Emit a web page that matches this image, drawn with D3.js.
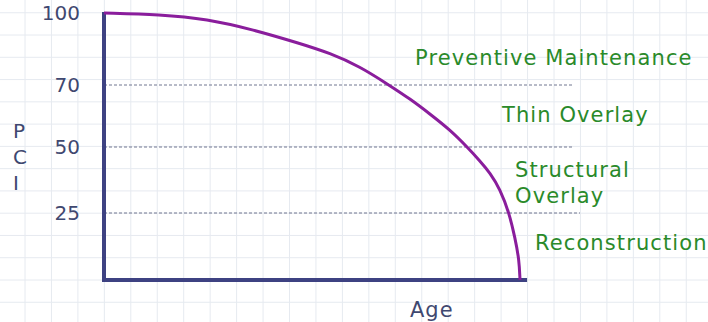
<!DOCTYPE html>
<html>
<head>
<meta charset="utf-8">
<script src="https://cdn.jsdelivr.net/npm/d3@7"></script>
<style>
  html, body { margin: 0; padding: 0; background: #fff; }
  #canvas { width: 708px; height: 322px; }
  text { font-family: "DejaVu Sans", Verdana, sans-serif; }
</style>
</head>
<body>
<div id="canvas" class="canvas"></div>
<script>
// data
var pciTicks = [100, 70, 50, 25];
var thresholds = [70, 50, 25];
var ages = [0, 1.35, 2.48, 3.58, 4.71, 5.43, 6.15, 6.83, 7.36, 7.84, 8.32, 8.73, 9.04, 9.28, 9.52, 9.74, 9.88, 9.98, 10];
var pci  = [100, 99.4, 97.5, 93.1, 87.3, 83.3, 77.7, 70.2, 65.5, 60.6, 55.5, 50, 44.7, 40.2, 34.1, 25, 15.7, 7.5, 0];
var ageMax = 10.17;
var bandLabels = [["Preventive Maintenance"], ["Thin Overlay"], ["Structural", "Overlay"], ["Reconstruction"]];

var outerWidth = 708, outerHeight = 322;

var svg = d3.select('.canvas')
  .append('svg')
  .attr('width', outerWidth)
  .attr('height', outerHeight);

svg.append('rect').attr('width', outerWidth).attr('height', outerHeight).attr('fill', '#fff');

// background grid paper
var gridX = d3.range(25, outerWidth, 26.45);
var gridY = d3.range(280 + 22.27 * 2, 0, -22.27);
svg.append('g').selectAll('line').data(gridX).enter().append('line')
  .attr('x1', function(d){ return d; }).attr('x2', function(d){ return d; })
  .attr('y1', 0).attr('y2', outerHeight)
  .attr('stroke', '#e6eaf0').attr('stroke-width', 1);
svg.append('g').selectAll('line').data(gridY).enter().append('line')
  .attr('y1', function(d){ return d; }).attr('y2', function(d){ return d; })
  .attr('x1', 0).attr('x2', outerWidth)
  .attr('stroke', '#e6eaf0').attr('stroke-width', 1);

// scales (y ticks are not evenly spaced in the original drawing)
var scaleX = d3.scaleLinear().domain([0, 10]).range([104, 520]);
var scaleY = d3.scaleLinear().domain([0, 25, 50, 70, 100]).range([280, 213, 147, 85, 13]);

// dashed threshold lines
svg.append('g').selectAll('line').data(thresholds).enter().append('line')
  .attr('x1', scaleX(0))
  .attr('x2', function(d){ return d === 25 ? 580 : 573; })
  .attr('y1', function(d){ return scaleY(d); })
  .attr('y2', function(d){ return scaleY(d); })
  .attr('stroke', '#707690')
  .attr('stroke-width', 1)
  .attr('stroke-dasharray', '3,2');

// y axis: only tick labels + the thick line
var axisY = d3.axisLeft(scaleY).tickValues(pciTicks).tickSize(0).tickPadding(24);
var gy = svg.append('g').attr('transform', 'translate(' + scaleX(0) + ',0)').call(axisY);
gy.select('.domain').remove();
gy.selectAll('text')
  .attr('font-family', '"DejaVu Sans", Verdana, sans-serif')
  .attr('font-size', 20)
  .attr('fill', '#3f4870');

svg.append('line')
  .attr('x1', scaleX(0)).attr('x2', scaleX(0))
  .attr('y1', scaleY(100) - 1).attr('y2', scaleY(0) + 2)
  .attr('stroke', '#3e4282').attr('stroke-width', 4);
svg.append('line')
  .attr('x1', scaleX(0) - 2).attr('x2', scaleX(ageMax))
  .attr('y1', scaleY(0)).attr('y2', scaleY(0))
  .attr('stroke', '#3e4282').attr('stroke-width', 4);

// curve
var pts = ages.map(function(a, i){ return [a, pci[i]]; });
var line = d3.line()
  .x(function(d){ return scaleX(d[0]); })
  .y(function(d){ return scaleY(d[1]); })
  .curve(d3.curveBasis);
svg.append('path')
  .datum(pts)
  .attr('d', line)
  .attr('fill', 'none')
  .attr('stroke', '#8a1d9c')
  .attr('stroke-width', 3);

// axis titles
svg.append('g').selectAll('text').data(['P', 'C', 'I']).enter().append('text')
  .attr('x', 13)
  .attr('y', function(d, i){ return 138 + i * 26; })
  .attr('font-size', 20)
  .attr('font-family', function(d){ return d === 'I' ? '"DejaVu Sans Mono", monospace' : null; })
  .attr('fill', '#3f4870')
  .text(function(d){ return d; });

svg.append('text')
  .attr('x', 410).attr('y', 317)
  .attr('font-size', 21)
  .attr('letter-spacing', 1)
  .attr('fill', '#3f4870')
  .text('Age');

// band labels
var labelPos = [[415, 65], [502, 122], [515, 177], [535, 250]];
bandLabels.forEach(function(lines, i){
  var t = svg.append('text')
    .attr('x', labelPos[i][0]).attr('y', labelPos[i][1])
    .attr('font-size', 21)
    .attr('letter-spacing', 1.1)
    .attr('fill', '#2a8a2a');
  lines.forEach(function(s, j){
    t.append('tspan').attr('x', labelPos[i][0]).attr('dy', j === 0 ? 0 : 26).text(s);
  });
});
</script>
</body>
</html>
